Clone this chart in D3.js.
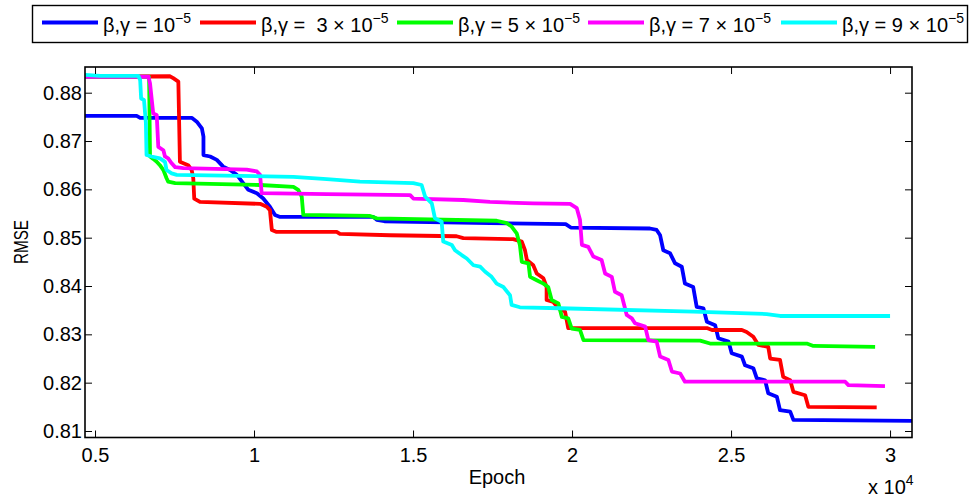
<!DOCTYPE html>
<html>
<head>
<meta charset="utf-8">
<script src="https://cdn.jsdelivr.net/npm/d3@7"></script>
<style>
  body { margin: 0; background: #fff; }
  svg text { font-family: "Liberation Sans", Arial, Helvetica, sans-serif; fill: #000; white-space: pre; }
</style>
</head>
<body>
<svg id="chart" width="973" height="500"></svg>
<script>
// RMSE against training epoch for five regularisation settings (β = γ).
const legendLabels = ["β,γ = 10", "β,γ =  3 × 10", "β,γ = 5 × 10", "β,γ = 7 × 10", "β,γ = 9 × 10"];
const legendExponent = "−5";
const seriesColors = ["#0000ff", "#ff0000", "#00ff00", "#ff00ff", "#00ffff"];

const xTicks = [5000, 10000, 15000, 20000, 25000, 30000];
const yTicks = [0.81, 0.82, 0.83, 0.84, 0.85, 0.86, 0.87, 0.88];

// [epoch, RMSE]
const rmse1e5 = [[4685,0.8752],[6310,0.8752],[6420,0.8748],[8040,0.8748],[8200,0.8740],[8360,0.8726],[8410,0.8709],[8410,0.8671],[8620,0.8668],[8830,0.8661],[9030,0.8647],[9250,0.8640],[9460,0.8630],[9660,0.8613],[9820,0.8599],[10090,0.8592],[10290,0.8581],[10500,0.8564],[10660,0.8547],[10820,0.8543],[13750,0.8543],[13860,0.8537],[14100,0.8534],[17420,0.8530],[19800,0.8528],[19960,0.8521],[22450,0.8519],[22660,0.8516],[22770,0.8505],[22870,0.8474],[23080,0.8468],[23240,0.8447],[23450,0.8440],[23550,0.8405],[23810,0.8398],[23920,0.8357],[24130,0.8354],[24240,0.8326],[24500,0.8319],[24600,0.8292],[24920,0.8285],[25020,0.8261],[25340,0.8254],[25440,0.8236],[25700,0.8230],[25810,0.8209],[26070,0.8205],[26170,0.8178],[26440,0.8171],[26540,0.8143],[26860,0.8140],[26960,0.8123],[30690,0.8121]];

const rmse3e5 = [[4685,0.8833],[7360,0.8834],[7460,0.8830],[7620,0.8823],[7670,0.8657],[7780,0.8654],[7930,0.8650],[8040,0.8640],[8090,0.8623],[8120,0.8581],[8300,0.8574],[10190,0.8570],[10400,0.8564],[10500,0.8557],[10560,0.8516],[10710,0.8512],[12600,0.8512],[12700,0.8508],[14280,0.8505],[16370,0.8503],[16580,0.8499],[18150,0.8497],[18420,0.8492],[18520,0.8474],[18580,0.8454],[18780,0.8443],[18890,0.8426],[19100,0.8416],[19200,0.8398],[19200,0.8371],[19410,0.8367],[19570,0.8354],[19780,0.8347],[19880,0.8313],[24240,0.8313],[24400,0.8309],[25340,0.8309],[25490,0.8305],[25700,0.8295],[25860,0.8278],[26170,0.8274],[26230,0.8250],[26540,0.8247],[26640,0.8212],[26860,0.8205],[26960,0.8181],[27330,0.8174],[27430,0.8150],[29580,0.8149]];

const rmse5e5 = [[4685,0.8833],[6700,0.8833],[6730,0.8668],[6830,0.8663],[6940,0.8657],[7040,0.8650],[7150,0.8640],[7250,0.8623],[7300,0.8616],[7520,0.8613],[10190,0.8609],[11240,0.8605],[11390,0.8599],[11500,0.8585],[11550,0.8547],[13650,0.8545],[13860,0.8540],[17630,0.8535],[17950,0.8530],[18100,0.8523],[18260,0.8509],[18360,0.8485],[18420,0.8450],[18630,0.8447],[18680,0.8419],[18890,0.8412],[19100,0.8405],[19250,0.8398],[19360,0.8371],[19570,0.8364],[19680,0.8336],[19880,0.8333],[19990,0.8312],[20250,0.8309],[20360,0.8288],[24030,0.8287],[24340,0.8281],[27380,0.8281],[27590,0.8276],[29530,0.8274]];

const rmse7e5 = [[4685,0.8833],[6680,0.8833],[6730,0.8819],[6830,0.8757],[6940,0.8754],[6990,0.8688],[7150,0.8681],[7200,0.8668],[7300,0.8664],[7410,0.8654],[7520,0.8646],[7780,0.8644],[9770,0.8641],[10090,0.8637],[10190,0.8630],[10240,0.8592],[12290,0.8590],[14910,0.8588],[15010,0.8581],[16580,0.8578],[17420,0.8574],[18780,0.8571],[19940,0.8570],[20150,0.8561],[20250,0.8537],[20310,0.8485],[20510,0.8481],[20670,0.8461],[20930,0.8454],[21040,0.8426],[21250,0.8419],[21350,0.8388],[21560,0.8381],[21720,0.8340],[21880,0.8333],[21980,0.8323],[22300,0.8316],[22400,0.8288],[22660,0.8285],[22770,0.8254],[23030,0.8247],[23140,0.8223],[23400,0.8219],[23550,0.8202],[28590,0.8202],[28690,0.8195],[29840,0.8193]];

const rmse9e5 = [[4685,0.8837],[5160,0.8835],[6360,0.8835],[6420,0.8826],[6450,0.8788],[6540,0.8785],[6600,0.8737],[6620,0.8671],[6780,0.8668],[7040,0.8664],[7200,0.8657],[7250,0.8640],[7410,0.8633],[7570,0.8630],[11240,0.8626],[12290,0.8621],[13330,0.8616],[15010,0.8613],[15270,0.8609],[15380,0.8585],[15590,0.8571],[15690,0.8540],[15900,0.8533],[15950,0.8492],[16220,0.8485],[16320,0.8474],[16530,0.8464],[16690,0.8457],[16900,0.8443],[17110,0.8440],[17260,0.8430],[17470,0.8419],[17630,0.8405],[17840,0.8398],[18050,0.8381],[18100,0.8361],[18360,0.8356],[19620,0.8354],[23810,0.8347],[26120,0.8342],[26540,0.8338],[30000,0.8338]];

const seriesData = [rmse1e5, rmse3e5, rmse5e5, rmse7e5, rmse9e5];

// ---- layout ----
const plot = { left: 85, right: 912, top: 67, bottom: 437.5 };
const svg = d3.select("#chart");

const x = d3.scaleLinear().domain([4685, 30690]).range([plot.left, plot.right]);
const y = d3.scaleLinear().domain([0.808655, 0.885318]).range([plot.bottom, plot.top]);

svg.append("defs").append("clipPath").attr("id", "plot-clip")
  .append("rect")
  .attr("x", plot.left).attr("y", plot.top)
  .attr("width", plot.right - plot.left).attr("height", plot.bottom - plot.top);

// ---- series ----
const line = d3.line().x(d => x(d[0])).y(d => y(d[1]));
svg.append("g").attr("clip-path", "url(#plot-clip)")
  .selectAll("path")
  .data(seriesData)
  .join("path")
  .attr("d", line)
  .attr("fill", "none")
  .attr("stroke", (d, i) => seriesColors[i])
  .attr("stroke-width", 3.8)
  .attr("stroke-linejoin", "round");

// ---- axes (ticks point inward on all four sides) ----
function styleAxis(g) {
  g.select(".domain").remove();
  g.selectAll(".tick line").attr("stroke", "#000").attr("stroke-width", 1);
  g.selectAll(".tick text").attr("font-size", 20).attr("fill", "#000")
    .attr("font-family", '"Liberation Sans", Arial, sans-serif');
}

svg.append("g").attr("transform", `translate(0,${plot.bottom})`)
  .call(d3.axisBottom(x).tickValues(xTicks).tickFormat(d => String(d / 10000))
    .tickSizeInner(-7).tickSizeOuter(0).tickPadding(10))
  .call(styleAxis);

svg.append("g").attr("transform", `translate(0,${plot.top})`)
  .call(d3.axisTop(x).tickValues(xTicks).tickFormat("").tickSizeInner(-7).tickSizeOuter(0))
  .call(styleAxis);

svg.append("g").attr("transform", `translate(${plot.left},0)`)
  .call(d3.axisLeft(y).tickValues(yTicks).tickFormat(d3.format(".2f"))
    .tickSizeInner(-7).tickSizeOuter(0).tickPadding(3))
  .call(styleAxis);

svg.append("g").attr("transform", `translate(${plot.right},0)`)
  .call(d3.axisRight(y).tickValues(yTicks).tickFormat("").tickSizeInner(-7).tickSizeOuter(0))
  .call(styleAxis);

svg.append("rect")
  .attr("x", plot.left).attr("y", plot.top)
  .attr("width", plot.right - plot.left).attr("height", plot.bottom - plot.top)
  .attr("fill", "none").attr("stroke", "#000").attr("stroke-width", 1.6);

// ---- axis titles ----
svg.append("text").attr("x", 497).attr("y", 484)
  .attr("text-anchor", "middle").attr("font-size", 20).text("Epoch");

svg.append("text")
  .attr("transform", "translate(28,242) rotate(-90)")
  .attr("text-anchor", "middle").attr("font-size", 21)
  .attr("textLength", 44).attr("lengthAdjust", "spacingAndGlyphs")
  .text("RMSE");

const mult = svg.append("text").attr("x", 868).attr("y", 494).attr("font-size", 20);
mult.append("tspan").text("x 10");
mult.append("tspan").attr("dy", -9).attr("font-size", 14).text("4");

// ---- legend ----
const legend = svg.append("g");
legend.append("rect")
  .attr("x", 32.5).attr("y", 5.5).attr("width", 935).attr("height", 37)
  .attr("fill", "#fff").attr("stroke", "#000").attr("stroke-width", 1.4);

const legendStarts = [42, 200, 397, 588, 781];
legendLabels.forEach((label, i) => {
  const x0 = legendStarts[i];
  legend.append("line")
    .attr("x1", x0).attr("x2", x0 + 56).attr("y1", 22.5).attr("y2", 22.5)
    .attr("stroke", seriesColors[i]).attr("stroke-width", 3.8);
  const t = legend.append("text").attr("x", x0 + 61).attr("y", 32).attr("font-size", 20);
  t.append("tspan").text(label);
  t.append("tspan").attr("dy", -9).attr("font-size", 14).text(legendExponent);
});
</script>
</body>
</html>
